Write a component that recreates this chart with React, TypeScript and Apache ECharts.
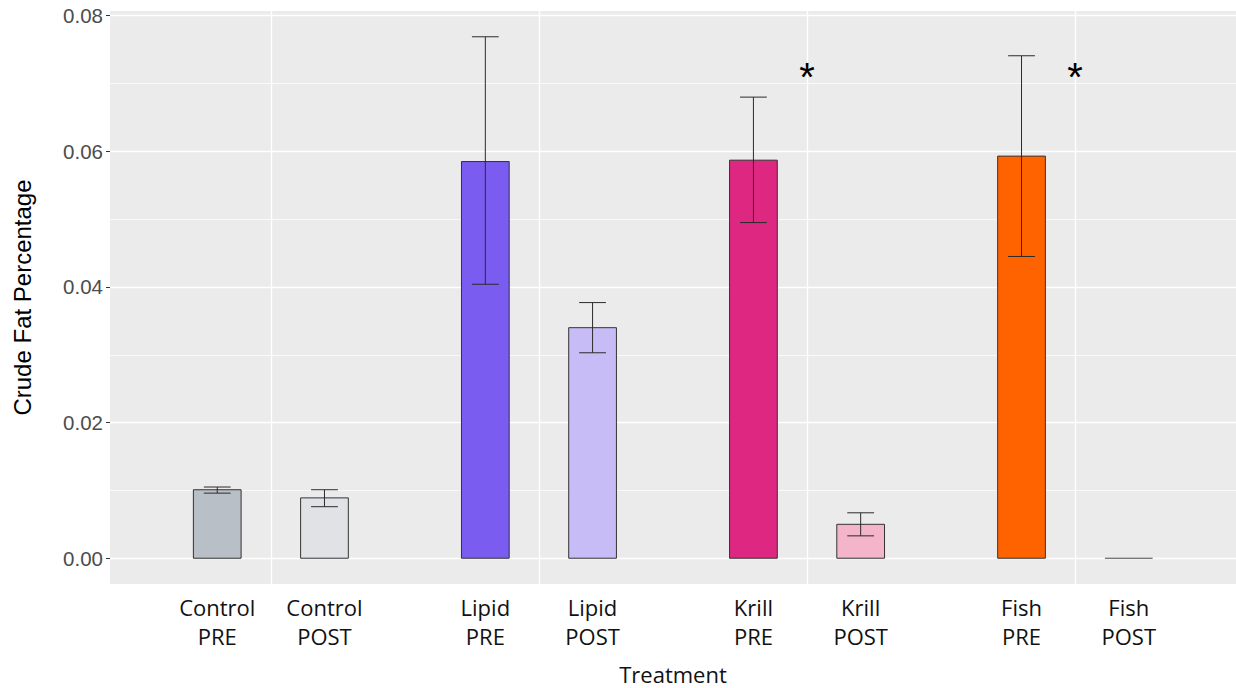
import React, { useEffect, useRef } from "react";
import * as echarts from "echarts";

// ---- data ----
const treatments = ["Control", "Lipid", "Krill", "Fish"];
const phases = ["PRE", "POST"];
const preMeans = [0.0101, 0.0585, 0.0587, 0.0593];
const preLower = [0.0096, 0.0404, 0.0495, 0.0445];
const preUpper = [0.0105, 0.0769, 0.068, 0.0741];
const postMeans = [0.0089, 0.034, 0.005, 0.0];
const postLower = [0.0076, 0.0303, 0.0033, 0.0];
const postUpper = [0.0101, 0.0377, 0.0067, 0.0];
const preColors = ["#b9bfc6", "#7b5cf0", "#de2780", "#ff6300"];
const postColors = ["#e0e2e5", "#c8bcf7", "#f4b5cb", "#f4b5cb"];
const significant = ["Krill", "Fish"];
const starLevel = 0.0709;
const yTicks = [0, 0.02, 0.04, 0.06, 0.08];
const yMinorTicks = [0.01, 0.03, 0.05, 0.07];

// ---- layout helpers (positions on a numeric x scale: groups at 10,20,30,40) ----
const groupPos = (i: number) => (i + 1) * 10;
const dodge = 2;
const barHalf = 0.89;
const capHalf = 0.5;

type BarRow = [number, number, number, number, string, string];
const bars: BarRow[] = [];
treatments.forEach((t, i) => {
  bars.push([groupPos(i) - dodge, preMeans[i], preLower[i], preUpper[i], preColors[i], t + "\n" + phases[0]]);
  bars.push([groupPos(i) + dodge, postMeans[i], postLower[i], postUpper[i], postColors[i], t + "\n" + phases[1]]);
});
const labelMap: Record<string, string> = {};
bars.forEach((b) => (labelMap[String(b[0])] = b[5]));

export default function App() {
  const ref = useRef<HTMLDivElement>(null);
  useEffect(() => {
    if (!ref.current) return;
    const chart = echarts.init(ref.current, undefined, { renderer: "svg" });
    const major = { color: "#ffffff", width: 1.3, type: "solid" as const };
    const minor = { color: "#ffffff", width: 0.7, type: "solid" as const };
    chart.setOption({
      animation: false,
      textStyle: { fontFamily: "Liberation Sans" },
      grid: {
        left: 110,
        right: 0,
        top: 11,
        bottom: 104,
        show: true,
        backgroundColor: "#ebebeb",
        borderWidth: 0,
        outerBoundsMode: "none",
      },
      xAxis: {
        type: "value",
        min: 4,
        max: 46,
        axisLine: { show: false },
        splitLine: { show: false },
        axisTick: { show: true, customValues: treatments.map((_, i) => groupPos(i)), length: 4, lineStyle: { color: "#333" } },
        axisLabel: {
          customValues: bars.map((b) => b[0]),
          formatter: (v: number) => labelMap[String(v)] ?? "",
          fontFamily: "Open Sans",
          fontSize: 22,
          lineHeight: 28.5,
          color: "#111",
          margin: 9,
        },
        name: "Treatment",
        nameLocation: "middle",
        nameGap: 78,
        nameTextStyle: { fontFamily: "Open Sans", fontSize: 22, color: "#111", lineHeight: 24 },
      },
      yAxis: {
        type: "value",
        min: -0.0038,
        max: 0.0807,
        axisLine: { show: false },
        splitLine: { show: false },
        axisTick: { show: true, customValues: yTicks, length: 4, lineStyle: { color: "#333" } },
        axisLabel: {
          customValues: yTicks,
          formatter: (v: number) => v.toFixed(2),
          fontFamily: "Liberation Sans",
          fontSize: 20.5,
          color: "#4d4d4d",
          margin: 7,
        },
        name: "Crude Fat Percentage",
        nameLocation: "middle",
        nameGap: 76,
        nameTextStyle: { fontFamily: "Liberation Sans", fontSize: 24, color: "#000" },
      },
      series: [
        {
          type: "custom",
          name: "bars",
          z: 3,
          data: bars.map((b) => [b[0], b[1], b[2], b[3]]),
          encode: { x: 0, y: 1 },
          renderItem: (params: any, api: any) => {
            const x = api.value(0);
            const y = api.value(1);
            const p0 = api.coord([x - barHalf, 0]);
            const p1 = api.coord([x + barHalf, y]);
            const h = p0[1] - p1[1];
            if (h < 0.5) {
              return {
                type: "line",
                shape: { x1: p0[0], y1: p0[1], x2: p1[0], y2: p0[1] },
                style: { stroke: "#444", lineWidth: 1 },
              };
            }
            return {
              type: "rect",
              shape: { x: p0[0], y: p1[1], width: p1[0] - p0[0], height: h },
              style: { fill: bars[params.dataIndex][4], stroke: "#333", lineWidth: 1 },
            };
          },
          markLine: {
            silent: true,
            symbol: "none",
            z: 1,
            label: { show: false },
            emphasis: { disabled: true },
            data: [
              ...yTicks.map((v) => ({ yAxis: v, lineStyle: major })),
              ...yMinorTicks.map((v) => ({ yAxis: v, lineStyle: minor })),
              ...treatments.map((_, i) => ({ xAxis: groupPos(i), lineStyle: major })),
            ],
          },
        },
        {
          type: "custom",
          name: "errors",
          z: 4,
          data: bars.filter((b) => b[3] > b[2]).map((b) => [b[0], b[2], b[3]]),
          encode: { x: 0, y: [1, 2] },
          renderItem: (params: any, api: any) => {
            const x = api.value(0);
            const lo = api.coord([x, api.value(1)]);
            const hi = api.coord([x, api.value(2)]);
            const cl = api.coord([x - capHalf, 0])[0];
            const cr = api.coord([x + capHalf, 0])[0];
            const st = { stroke: "#2b2b2b", lineWidth: 1 };
            return {
              type: "group",
              children: [
                { type: "line", shape: { x1: lo[0], y1: lo[1], x2: hi[0], y2: hi[1] }, style: st },
                { type: "line", shape: { x1: cl, y1: lo[1], x2: cr, y2: lo[1] }, style: st },
                { type: "line", shape: { x1: cl, y1: hi[1], x2: cr, y2: hi[1] }, style: st },
              ],
            };
          },
        },
        {
          type: "custom",
          name: "stars",
          z: 5,
          data: significant.map((t) => [groupPos(treatments.indexOf(t)), starLevel]),
          encode: { x: 0, y: 1 },
          renderItem: (params: any, api: any) => {
            const p = api.coord([api.value(0), api.value(1)]);
            return {
              type: "text",
              x: p[0],
              y: p[1],
              style: {
                text: "*",
                fontFamily: "Liberation Sans",
                fontSize: 40,
                fill: "#000",
                align: "center",
                verticalAlign: "middle",
              },
            };
          },
        },
      ],
    });
    return () => chart.dispose();
  }, []);
  return (
    <div
      ref={ref}
      style={{ position: "fixed", left: 0, top: 0, width: 1236, height: 688, background: "#fff" }}
    />
  );
}
